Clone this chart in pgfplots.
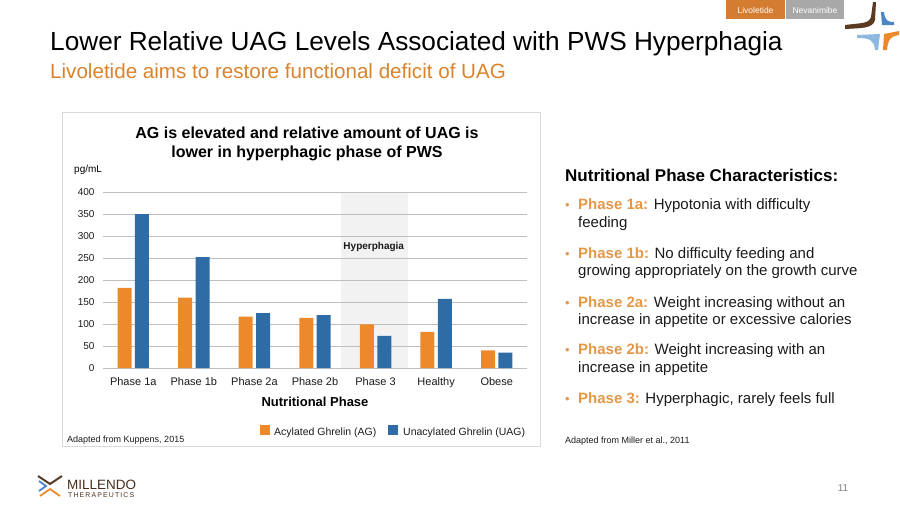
\documentclass[border=0pt]{standalone}
\usepackage{pgfplots}
\pgfplotsset{compat=1.18}
\usepackage{fontspec}
\setmainfont{Liberation Sans}
\usepackage{graphicx}
\definecolor{barorange}{HTML}{EC8A2B}
\definecolor{barblue}{HTML}{2F6CA5}
\definecolor{suborange}{HTML}{DA832C}
\definecolor{lblorange}{HTML}{E3974A}
\definecolor{tagorange}{HTML}{D47C2F}
\definecolor{taggray}{HTML}{A8A8A8}
\definecolor{framegray}{HTML}{D9D9D9}
\definecolor{gridgray}{HTML}{BFBFBF}
\definecolor{shadegray}{HTML}{F2F2F2}
\definecolor{logobrown}{HTML}{5A3A22}
\definecolor{logoblue}{HTML}{4A86C5}
\definecolor{logolblue}{HTML}{8DB8E0}
\definecolor{txt}{HTML}{1A1A1A}
\begin{document}
\begin{tikzpicture}
\begin{scope}[x=1pt,y=-1pt]
% chart frame
\draw[color=framegray, line width=0.8pt] (62,112) rectangle (540,446);
% titles
\node[anchor=base west, inner sep=0] at (50,50) {\fontsize{26.2}{30}\selectfont Lower Relative UAG Levels Associated with PWS Hyperphagia};
\node[anchor=base west, inner sep=0, text=suborange] at (50,78) {\fontsize{20.6}{24}\selectfont Livoletide aims to restore functional deficit of UAG};
% tags
\fill[tagorange] (726,0) rectangle (785,19);
\fill[taggray] (786,0) rectangle (844,19);
\node[text=white, inner sep=0] at (755.5,10) {\fontsize{8.5}{10}\selectfont Livoletide};
\node[text=white, inner sep=0] at (815,10) {\fontsize{8.5}{10}\selectfont Nevanimibe};
% top-right logo
\fill[logobrown] (845,25) .. controls (860,23) and (869,24) .. (871,17) -- (873,2) -- (876,2) -- (875,20) .. controls (873,29) and (860,28) .. (845,29) -- cycle;
\fill[logoblue] (881,12) -- (884,12) .. controls (885,20) and (887,22) .. (894,22) -- (894,25) -- (882,25) -- cycle;
\fill[logolblue] (857,35) -- (880,34) -- (878,50) -- (875,50) .. controls (874,40) and (870,38) .. (857,38) -- cycle;
\fill[barorange] (883,50) -- (884,34) -- (899,31) -- (899,35) .. controls (892,36) and (888,38) .. (887,50) -- cycle;
% bottom-left logo
\draw[logobrown, line width=2pt] (38,476) -- (50,484) -- (62,476);
\draw[logoblue, line width=1.8pt] (39,481) -- (46,486) -- (39,491);
\draw[barorange, line width=1.8pt] (40,496) -- (50,489) -- (60,496);
\node[anchor=base west, inner sep=0, text=logobrown!80!black] at (67,489) {\fontsize{13.5}{16}\selectfont MILLENDO};
\node[anchor=base west, inner sep=0, text=logobrown!80!black] at (68,497) {\resizebox{66pt}{!}{\fontsize{6}{7}\selectfont T\,H\,E\,R\,A\,P\,E\,U\,T\,I\,C\,S}};
% page number
\node[anchor=base, inner sep=0, text=gray] at (843,491) {\fontsize{10}{12}\selectfont 11};
% chart texts
\node[inner sep=0, anchor=base, align=center] at (307,138) {\fontsize{16}{19}\selectfont\bfseries AG is elevated and relative amount of UAG is};
\node[inner sep=0, anchor=base, align=center] at (307,157) {\fontsize{16}{19}\selectfont\bfseries lower in hyperphagic phase of PWS};
\node[anchor=base west, inner sep=0] at (74,172) {\fontsize{10}{12}\selectfont pg/mL};
\node[anchor=base, inner sep=0] at (315,406) {\fontsize{13}{15}\selectfont\bfseries Nutritional Phase};
\fill[barorange] (260,425) rectangle (270,435);
\node[anchor=base west, inner sep=0, text=txt] at (274,435) {\fontsize{10.5}{12}\selectfont Acylated Ghrelin (AG)};
\fill[barblue] (388,425) rectangle (398,435);
\node[anchor=base west, inner sep=0, text=txt] at (403,435) {\fontsize{10.5}{12}\selectfont Unacylated Ghrelin (UAG)};
\node[anchor=base west, inner sep=0, text=txt] at (67,442) {\fontsize{9}{11}\selectfont Adapted from Kuppens, 2015};
% right panel
\node[anchor=base west, inner sep=0] at (565,181) {\fontsize{17}{20}\selectfont\bfseries Nutritional Phase Characteristics:};
\foreach \yy/\lab/\rest in {209/Phase 1a:/Hypotonia with difficulty, 258/Phase 1b:/No difficulty feeding and, 307/Phase 2a:/Weight increasing without an, 354/Phase 2b:/Weight increasing with an, 403/Phase 3:/{Hyperphagic, rarely feels full}}{
  \node[anchor=base west, inner sep=0, text=lblorange] at (565,\yy) {\fontsize{13}{18}\selectfont •};
  \node[anchor=base west, inner sep=0, text=txt] at (578,\yy) {\fontsize{15}{18}\selectfont\textcolor{lblorange}{\bfseries \lab} \rest};
}
\foreach \yy/\rest in {227/feeding, 275/growing appropriately on the growth curve, 324/increase in appetite or excessive calories, 372/increase in appetite}{
  \node[anchor=base west, inner sep=0, text=txt] at (578,\yy) {\fontsize{15}{18}\selectfont \rest};
}
\node[anchor=base west, inner sep=0, text=txt] at (565,443) {\fontsize{9}{11}\selectfont Adapted from Miller et al., 2011};
\end{scope}
\begin{axis}[
  at={(103pt,-368pt)}, anchor=south west,
  scale only axis, width=424pt, height=176pt,
  xmin=-0.5, xmax=6.5, ymin=0, ymax=400,
  set layers,
  axis line style={draw=none},
  ymajorgrids, major grid style={color=gridgray, line width=0.8pt},
  major tick length=0pt,
  ytick={0,50,...,400},
  xtick={0,1,2,3,4,5,6},
  xticklabels={Phase 1a,Phase 1b,Phase 2a,Phase 2b,Phase 3,Healthy,Obese},
  /pgf/number format/assume math mode=true,
  yticklabel style={font=\fontsize{10}{12}\selectfont, text=txt, xshift=-5pt},
  xticklabel style={font=\fontsize{11}{13}\selectfont, text=txt, yshift=-6pt},
  ybar, bar width=14pt,
  clip=false,
]
\begin{pgfonlayer}{axis background}
\fill[shadegray] (axis cs:3.43,0) rectangle (axis cs:4.54,400);
\end{pgfonlayer}
\addplot[fill=barorange, draw=none, bar shift=-8.7pt] coordinates {(0,182) (1,160) (2,117) (3,114) (4,99) (5,82) (6,40)};
\addplot[fill=barblue, draw=none, bar shift=8.7pt] coordinates {(0,350) (1,252) (2,125) (3,120) (4,73) (5,157) (6,35)};
\node[font=\fontsize{10}{12}\selectfont\bfseries, text=txt] at (axis cs:3.97,275) {Hyperphagia};
\end{axis}
\pgfresetboundingbox
\useasboundingbox (0,0) rectangle (900pt,-506pt);
\end{tikzpicture}
\end{document}
